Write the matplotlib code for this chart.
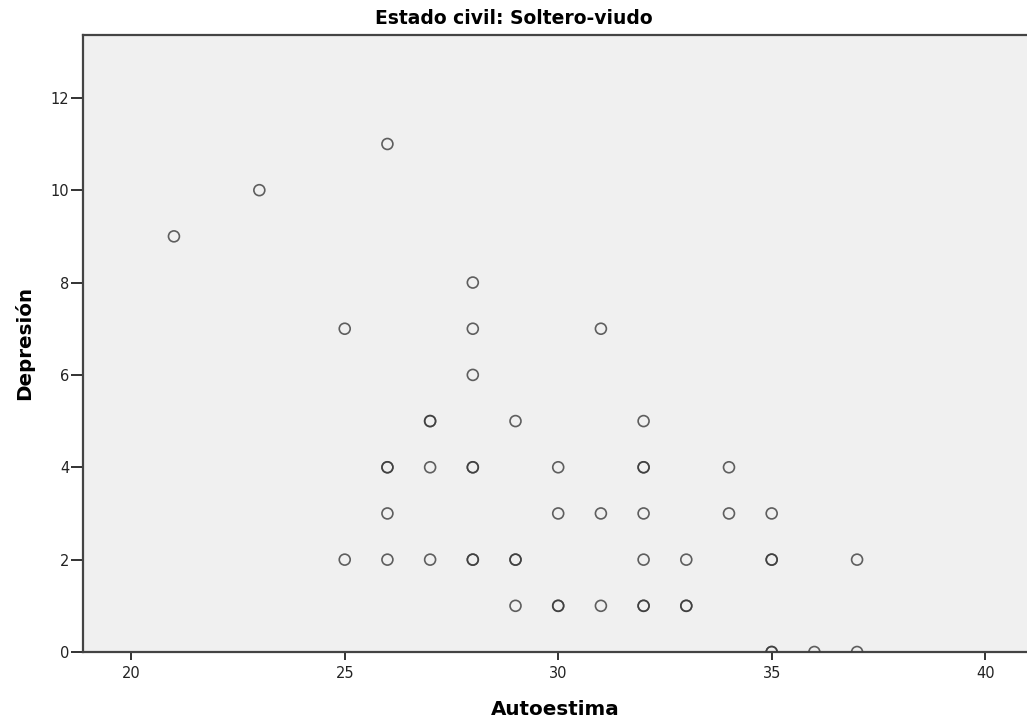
import matplotlib
matplotlib.use("Agg")
import matplotlib.pyplot as plt

# Data (duplicates appear as repeated entries)
autoestima = [21, 23, 26,
              25, 28, 28, 28, 31,
              27, 27, 29, 32,
              26, 26, 27, 28, 28, 30, 32, 32, 34,
              26, 30, 31, 32, 34, 35,
              25, 26, 27, 28, 28, 29, 29, 32, 33, 35, 35, 37,
              29, 30, 30, 31, 32, 32, 33, 33,
              35, 35, 36, 37]
depresion = [9, 10, 11,
             7, 8, 7, 6, 7,
             5, 5, 5, 5,
             4, 4, 4, 4, 4, 4, 4, 4, 4,
             3, 3, 3, 3, 3, 3,
             2, 2, 2, 2, 2, 2, 2, 2, 2, 2, 2, 2,
             1, 1, 1, 1, 1, 1, 1, 1,
             0, 0, 0, 0]
x_ticks = [20, 25, 30, 35, 40]
y_ticks = [0, 2, 4, 6, 8, 10, 12]

plt.rcParams['font.family'] = ['DejaVu Sans']

fig = plt.figure(figsize=(10.27, 7.2), dpi=100)
fig.patch.set_facecolor('white')
ax = fig.add_axes([83/1027, 68/720, 1 - 83/1027, (652-35)/720])
ax.set_facecolor('#f0f0f0')

ax.scatter(autoestima, depresion, s=62, facecolors='none', edgecolors='#3a3a3a',
           linewidths=1.2, alpha=0.8, zorder=3, clip_on=True)

ax.set_xlim(18.87, 40.98)
ax.set_ylim(0, 13.36)
ax.set_xticks(x_ticks)
ax.set_yticks(y_ticks)
ax.tick_params(axis='x', direction='out', length=6, width=1.3, color='#222222',
               labelsize=10.5, labelcolor='#222222', pad=4)
ax.tick_params(axis='y', direction='out', length=9, width=1.3, color='#222222',
               labelsize=10.5, labelcolor='#222222', pad=1)

for side in ['left', 'bottom', 'top']:
    ax.spines[side].set_color('#444444')
    ax.spines[side].set_linewidth(1.6)
ax.spines['right'].set_visible(False)

ax.set_xlabel('Autoestima', fontsize=14.3, fontweight='bold', labelpad=14)
ax.set_ylabel('Depresión', fontsize=14.3, fontweight='bold', labelpad=12)
fig.text(0.5, 1 - 19/720, 'Estado civil: Soltero-viudo', fontsize=13.5,
         fontweight='bold', ha='center', va='center')

fig.savefig('out.png', dpi=100)
